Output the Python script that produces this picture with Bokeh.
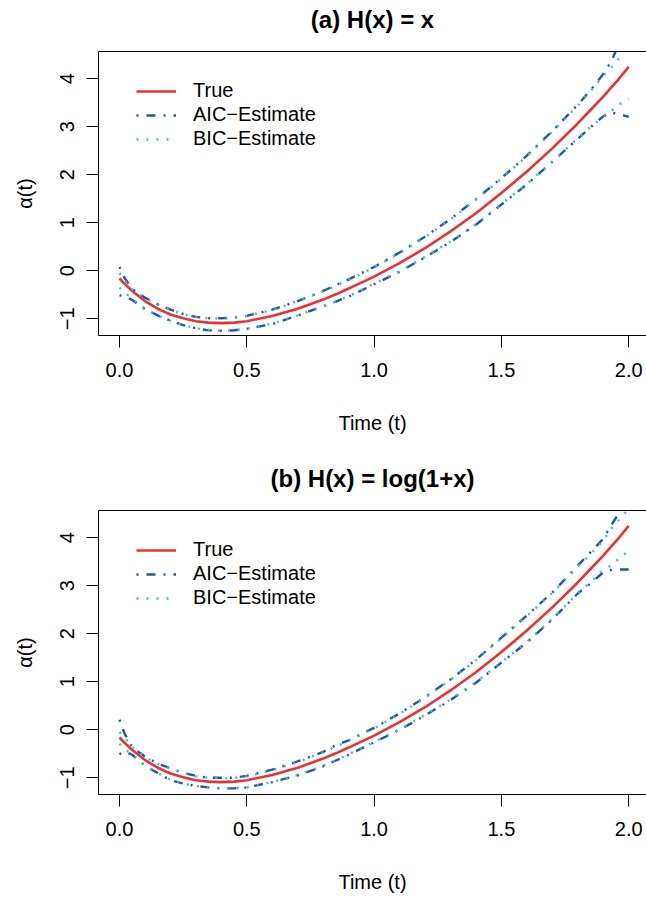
from bokeh.plotting import figure
from bokeh.layouts import column
from bokeh.models import FixedTicker, Legend, LegendItem, LinearAxis
from bokeh.embed import file_html
from bokeh.resources import INLINE

# ---------------- data ----------------
t = [0, 0.02, 0.05, 0.1, 0.15, 0.2, 0.25, 0.3, 0.35, 0.4, 0.45, 0.5, 0.6, 0.7,
     0.8, 0.85, 0.9, 1.0, 1.1, 1.2, 1.3, 1.4, 1.5, 1.6, 1.7, 1.8, 1.85, 1.9,
     1.93, 1.96, 2.0]

true_alpha = [-0.16, -0.27, -0.42, -0.63, -0.79, -0.91, -0.99, -1.05, -1.08, -1.09,
              -1.08, -1.05, -0.94, -0.79, -0.60, -0.49, -0.37, -0.12, 0.16, 0.47,
              0.82, 1.20, 1.62, 2.07, 2.55, 3.07, 3.35, 3.63, 3.81, 3.99, 4.25]

# panel (a) H(x) = x
a_aic_upper = [0.08, -0.15, -0.38, -0.56, -0.70, -0.81, -0.90, -0.96, -0.99, -0.99,
               -0.97, -0.94, -0.81, -0.63, -0.42, -0.30, -0.18, 0.08, 0.38, 0.71,
               1.08, 1.49, 1.93, 2.40, 2.91, 3.46, 3.76, 4.10, 4.35, 4.70, 5.10]
a_aic_lower = [-0.51, -0.53, -0.61, -0.80, -0.93, -1.04, -1.13, -1.20, -1.24, -1.25,
               -1.24, -1.21, -1.11, -0.93, -0.74, -0.64, -0.54, -0.28, -0.02, 0.28,
               0.60, 0.96, 1.38, 1.80, 2.27, 2.75, 2.99, 3.22, 3.30, 3.26, 3.21]
a_bic_upper = [-0.05, -0.20, -0.38, -0.57, -0.70, -0.81, -0.90, -0.96, -0.99, -1.00,
               -0.98, -0.94, -0.82, -0.63, -0.43, -0.31, -0.19, 0.07, 0.37, 0.70,
               1.07, 1.48, 1.92, 2.39, 2.90, 3.44, 3.74, 4.06, 4.22, 4.42, 4.80]
a_bic_lower = [-0.35, -0.45, -0.58, -0.79, -0.93, -1.04, -1.13, -1.20, -1.23, -1.25,
               -1.24, -1.21, -1.10, -0.93, -0.74, -0.64, -0.53, -0.27, -0.01, 0.29,
               0.61, 0.97, 1.39, 1.81, 2.28, 2.76, 3.00, 3.20, 3.32, 3.46, 3.58]

# panel (b) H(x) = log(1+x)
b_aic_upper = [0.21, -0.08, -0.36, -0.56, -0.70, -0.80, -0.90, -0.96, -1.00, -1.00,
               -1.00, -0.96, -0.83, -0.66, -0.46, -0.32, -0.22, 0.04, 0.34, 0.68,
               1.05, 1.46, 1.92, 2.38, 2.86, 3.42, 3.70, 3.98, 4.25, 4.50, 4.75]
b_aic_lower = [-0.51, -0.45, -0.52, -0.75, -0.90, -1.05, -1.12, -1.17, -1.20, -1.22,
               -1.22, -1.20, -1.09, -0.95, -0.76, -0.64, -0.52, -0.26, 0.00, 0.30,
               0.62, 0.98, 1.40, 1.82, 2.30, 2.84, 3.05, 3.28, 3.33, 3.34, 3.34]
b_bic_upper = [-0.05, -0.15, -0.36, -0.57, -0.71, -0.81, -0.90, -0.97, -1.00, -1.01,
               -1.00, -0.97, -0.84, -0.67, -0.47, -0.35, -0.23, 0.03, 0.33, 0.67,
               1.04, 1.45, 1.91, 2.37, 2.85, 3.40, 3.66, 3.94, 4.18, 4.37, 4.60]
b_bic_lower = [-0.29, -0.40, -0.52, -0.74, -0.90, -1.04, -1.12, -1.17, -1.20, -1.22,
               -1.22, -1.20, -1.09, -0.94, -0.75, -0.63, -0.51, -0.25, 0.01, 0.31,
               0.63, 0.99, 1.41, 1.83, 2.31, 2.85, 3.08, 3.33, 3.42, 3.56, 3.73]

x_ticks = [0, 0.5, 1, 1.5, 2]
x_tick_labels = ["0.0", "0.5", "1.0", "1.5", "2.0"]
y_ticks = [-1, 0, 1, 2, 3, 4]
y_tick_labels = ["\u22121", "0", "1", "2", "3", "4"]
legend_labels = ["True", "AIC\u2212Estimate", "BIC\u2212Estimate"]
titles = ["(a) H(x) = x", "(b) H(x) = log(1+x)"]

# ---------------- styling ----------------
FONT = "Liberation Sans"
RED = "#e8332f"
BLUE = "#2456ae"
CYAN = "#36c2cc"
X0, X1 = -0.0825, 2.0699
Y0, Y1 = -1.348, 4.569


def make_panel(title, aic_up, aic_lo, bic_up, bic_lo, height, bottom_border):
    p = figure(width=646, height=height, x_range=(X0, X1), y_range=(Y0, Y1),
               output_backend="svg", toolbar_location=None,
               min_border_left=98, min_border_right=0, min_border_top=51,
               min_border_bottom=bottom_border)
    p.outline_line_color = None
    p.xgrid.visible = False
    p.ygrid.visible = False
    p.background_fill_color = "white"
    p.border_fill_color = "white"

    for ax in (p.xaxis[0], p.yaxis[0]):
        ax.axis_line_color = "black"
        ax.axis_line_width = 1
        ax.major_tick_line_color = "black"
        ax.major_tick_in = 0
        ax.major_tick_out = 12
        ax.minor_tick_line_color = None
        ax.major_label_text_font = FONT
        ax.major_label_text_font_size = "20px"
        ax.major_label_text_color = "black"
        ax.axis_label_text_font = FONT
        ax.axis_label_text_font_size = "20px"
        ax.axis_label_text_font_style = "normal"
        ax.axis_label_text_color = "black"

    p.xaxis.ticker = FixedTicker(ticks=x_ticks)
    p.xaxis.major_label_overrides = {v: s for v, s in zip(x_ticks, x_tick_labels)}
    p.xaxis.major_label_standoff = 15
    p.xaxis.axis_label = "Time (t)"
    p.xaxis.axis_label_standoff = 32

    p.yaxis.ticker = FixedTicker(ticks=y_ticks)
    p.yaxis.major_label_overrides = {v: s for v, s in zip(y_ticks, y_tick_labels)}
    p.yaxis.major_label_orientation = "vertical"
    p.yaxis.major_label_standoff = 12
    p.yaxis.axis_label = "\u03b1(t)"
    p.yaxis.axis_label_standoff = 22

    # top box edge + panel title (as the label of a tick-less axis above)
    top = LinearAxis(ticker=FixedTicker(ticks=[]), axis_line_color="black",
                     axis_line_width=1, major_tick_line_color=None,
                     minor_tick_line_color=None, major_label_text_font_size="0px",
                     major_tick_in=0, major_tick_out=0, major_label_standoff=0,
                     axis_label=title, axis_label_standoff=19,
                     axis_label_text_font=FONT, axis_label_text_font_size="24px",
                     axis_label_text_font_style="bold", axis_label_text_color="black")
    p.add_layout(top, "above")

    r_true = p.line(t, true_alpha, line_color=RED, line_width=2.6)
    r_aic = p.line(t, aic_up, line_color=BLUE, line_width=2.4, line_dash="2 8 9 8")
    p.line(t, aic_lo, line_color=BLUE, line_width=2.4, line_dash="2 8 9 8")
    r_bic = p.line(t, bic_up, line_color=CYAN, line_width=2.4, line_dash="2 8")
    p.line(t, bic_lo, line_color=CYAN, line_width=2.4, line_dash="2 8")

    legend = Legend(items=[LegendItem(label=legend_labels[0], renderers=[r_true]),
                           LegendItem(label=legend_labels[1], renderers=[r_aic]),
                           LegendItem(label=legend_labels[2], renderers=[r_bic])],
                    location=(38, 185))
    legend.border_line_color = None
    legend.background_fill_alpha = 0
    legend.padding = 0
    legend.margin = 0
    legend.glyph_width = 40
    legend.glyph_height = 22
    legend.label_height = 22
    legend.spacing = 1
    legend.label_standoff = 17
    legend.label_text_font = FONT
    legend.label_text_font_size = "20px"
    legend.label_text_color = "black"
    p.add_layout(legend)
    return p


pa = make_panel(titles[0], a_aic_upper, a_aic_lower, a_bic_upper, a_bic_lower, 459, 124)
pb = make_panel(titles[1], b_aic_upper, b_aic_lower, b_bic_upper, b_bic_lower, 438, 103)

layout = column(pa, pb, spacing=0)
open("out.html", "w").write(file_html(layout, INLINE))
